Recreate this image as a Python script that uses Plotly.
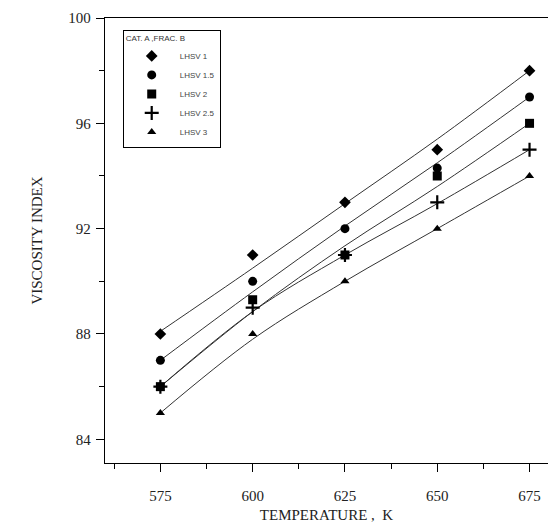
import plotly.graph_objects as go

# Data
temperature = [575, 600, 625, 650, 675]
series_names = ["LHSV 1", "LHSV 1.5", "LHSV 2", "LHSV 2.5", "LHSV 3"]
vi_lhsv1 = [88, 91, 93, 95, 98]
vi_lhsv15 = [87, 90, 92, 94.3, 97]
vi_lhsv2 = [86, 89.3, 91, 94, 96]
vi_lhsv25 = [86, 89, 91, 93, 95]
vi_lhsv3 = [85, 88, 90, 92, 94]
# fitted curves
fit_lhsv1 = [88.1, 90.5, 92.95, 95.4, 98]
fit_lhsv15 = [87, 89.6, 92.1, 94.5, 97]
fit_lhsv2 = [86, 88.85, 91.35, 93.6, 96]
fit_lhsv25 = [86, 88.85, 91.0, 92.95, 95]
fit_lhsv3 = [85, 87.8, 90.0, 92.0, 94]

points = [vi_lhsv1, vi_lhsv15, vi_lhsv2, vi_lhsv25, vi_lhsv3]
fits = [fit_lhsv1, fit_lhsv15, fit_lhsv2, fit_lhsv25, fit_lhsv3]
symbols = ["diamond", "circle", "square", "cross-thin", "triangle-up"]
sizes = [9, 9, 9, 10, 8]

fig = go.Figure()
for f in fits:
    fig.add_trace(go.Scatter(x=temperature, y=f, mode="lines", line_shape="spline",
                             line=dict(color="#333333", width=1), showlegend=False,
                             hoverinfo="skip"))
for name, p, s, sz in zip(series_names, points, symbols, sizes):
    mk = dict(symbol=s, size=sz, color="black")
    if s == "cross-thin":
        mk["line"] = dict(color="black", width=2.2)
    fig.add_trace(go.Scatter(x=temperature, y=p, mode="markers", name=name, marker=mk))

axis_common = dict(showline=True, linecolor="black", linewidth=1.3, mirror=True,
                   showgrid=False, zeroline=False, ticks="outside", tickcolor="black",
                   tickfont=dict(family="Liberation Serif", size=15, color="#222"))

fig.update_layout(
    width=548, height=526,
    margin=dict(l=105, r=0, t=18, b=63, pad=0),
    paper_bgcolor="white", plot_bgcolor="white",
    xaxis=dict(range=[560, 680], tick0=575, dtick=25, ticklen=8, tickwidth=1.3,
               minor=dict(dtick=12.5, ticklen=5, tickcolor="black", ticks="outside"),
               title=dict(text="TEMPERATURE ,  K", standoff=6,
                          font=dict(family="Liberation Serif", size=15, color="#222")),
               ticklabelstandoff=11, automargin=False, **axis_common),
    yaxis=dict(range=[83.1, 100], tick0=84, dtick=4, ticklen=8, tickwidth=1.3,
               minor=dict(dtick=2, ticklen=5, tickcolor="black", ticks="outside"),
               title=dict(text="VISCOSITY INDEX", standoff=22,
                          font=dict(family="Liberation Serif", size=15, color="#222")),
               ticklabelstandoff=2, automargin=False, **axis_common),
    legend=dict(x=0.04, y=0.973, xanchor="left", yanchor="top",
                bordercolor="black", borderwidth=1, bgcolor="white",
                title=dict(text="CAT. A ,FRAC. B", font=dict(family="Liberation Sans", size=8, color="#333")),
                font=dict(family="Liberation Sans", size=8, color="#444"),
                itemwidth=46, tracegroupgap=0),
)
fig.write_html("out.html")
